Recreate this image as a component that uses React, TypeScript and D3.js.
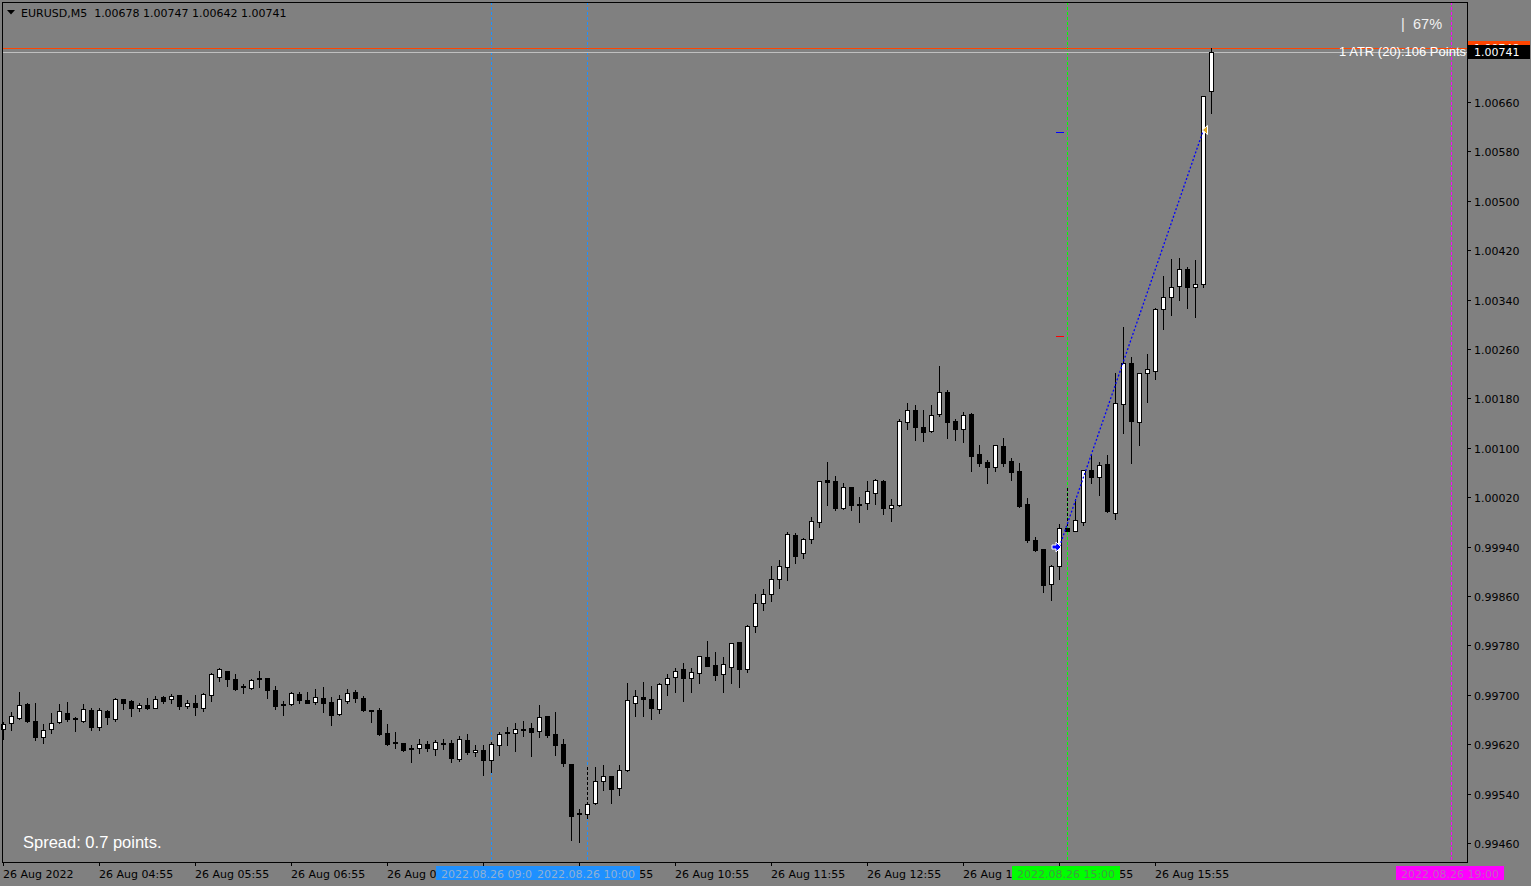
import React from 'react';
import * as d3 from 'd3';

const W = 1531;
const H = 886;

// OHLC of EURUSD M5, bars from 26 Aug 03:55 (index 0) to 16:30 (index 151)
const opens = [
  0.99645, 0.99655, 0.99663, 0.99685, 0.99658, 0.99632, 0.99645, 0.99656, 0.99671, 0.99663,
  0.99658, 0.99676, 0.99648, 0.99674, 0.99660, 0.99694, 0.99690, 0.99679, 0.99684, 0.99679,
  0.99697, 0.99694, 0.99700, 0.99682, 0.99687, 0.99679, 0.99700, 0.99729, 0.99739, 0.99726,
  0.99715, 0.99711, 0.99728, 0.99728, 0.99708, 0.99685, 0.99685, 0.99702, 0.99692, 0.99689,
  0.99695, 0.99689, 0.99669, 0.99690, 0.99705, 0.99695, 0.99676, 0.99676, 0.99638, 0.99624,
  0.99622, 0.99614, 0.99614, 0.99621, 0.99613, 0.99622, 0.99622, 0.99596, 0.99627, 0.99608,
  0.99611, 0.99595, 0.99619, 0.99640, 0.99638, 0.99645, 0.99647, 0.99642, 0.99666, 0.99637,
  0.99621, 0.99588, 0.99509, 0.99507, 0.99525, 0.99561, 0.99569, 0.99549, 0.99579, 0.99687,
  0.99697, 0.99694, 0.99677, 0.99718, 0.99729, 0.99741, 0.99728, 0.99736, 0.99762, 0.99749,
  0.99734, 0.99745, 0.99786, 0.99742, 0.99812, 0.99849, 0.99864, 0.99888, 0.99907, 0.99959,
  0.99930, 0.99953, 0.99980, 1.00048, 1.00047, 1.00003, 1.00037, 1.00009, 1.00011, 1.00027,
  1.00047, 1.00003, 1.00008, 1.00142, 1.00161, 1.00134, 1.00127, 1.00155, 1.00191, 1.00144,
  1.00131, 1.00155, 1.00090, 1.00077, 1.00069, 1.00103, 1.00079, 1.00063, 1.00009, 0.99951,
  0.99936, 0.99880, 0.99909, 0.99970, 0.99966, 0.99980, 1.00064, 1.00053, 1.00074, 0.99995,
  1.00171, 1.00238, 1.00142, 1.00221, 1.00225, 1.00325, 1.00344, 1.00362, 1.00390, 1.00361,
  1.00365, 1.00678,
];
const highs = [
  0.99656, 0.99672, 0.99705, 0.99687, 0.99687, 0.99653, 0.99671, 0.99685, 0.99689, 0.99664,
  0.99685, 0.99679, 0.99679, 0.99676, 0.99695, 0.99694, 0.99692, 0.99687, 0.99695, 0.99698,
  0.99698, 0.99702, 0.99700, 0.99692, 0.99700, 0.99703, 0.99736, 0.99744, 0.99739, 0.99734,
  0.99718, 0.99726, 0.99739, 0.99728, 0.99715, 0.99690, 0.99705, 0.99705, 0.99705, 0.99710,
  0.99713, 0.99697, 0.99700, 0.99710, 0.99707, 0.99698, 0.99676, 0.99679, 0.99653, 0.99640,
  0.99622, 0.99619, 0.99629, 0.99625, 0.99627, 0.99629, 0.99627, 0.99634, 0.99637, 0.99619,
  0.99619, 0.99624, 0.99640, 0.99648, 0.99655, 0.99658, 0.99655, 0.99684, 0.99666, 0.99672,
  0.99629, 0.99588, 0.99515, 0.99527, 0.99583, 0.99587, 0.99569, 0.99587, 0.99719, 0.99708,
  0.99721, 0.99715, 0.99719, 0.99734, 0.99744, 0.99752, 0.99744, 0.99763, 0.99787, 0.99770,
  0.99762, 0.99784, 0.99786, 0.99813, 0.99864, 0.99872, 0.99909, 0.99919, 0.99964, 0.99962,
  0.99954, 0.99988, 1.00047, 1.00077, 1.00055, 1.00043, 1.00037, 1.00021, 1.00047, 1.00050,
  1.00048, 1.00017, 1.00147, 1.00173, 1.00170, 1.00161, 1.00170, 1.00233, 1.00194, 1.00147,
  1.00158, 1.00157, 1.00105, 1.00080, 1.00105, 1.00116, 1.00084, 1.00076, 1.00019, 0.99956,
  0.99936, 0.99910, 0.99977, 0.99970, 1.00017, 1.00064, 1.00089, 1.00077, 1.00089, 1.00221,
  1.00296, 1.00247, 1.00221, 1.00252, 1.00327, 1.00378, 1.00406, 1.00408, 1.00392, 1.00404,
  1.00670, 1.00747,
];
const lows = [
  0.99629, 0.99643, 0.99661, 0.99656, 0.99627, 0.99622, 0.99638, 0.99655, 0.99658, 0.99642,
  0.99656, 0.99643, 0.99643, 0.99653, 0.99658, 0.99677, 0.99666, 0.99674, 0.99677, 0.99679,
  0.99687, 0.99687, 0.99677, 0.99679, 0.99668, 0.99674, 0.99690, 0.99723, 0.99715, 0.99708,
  0.99703, 0.99710, 0.99713, 0.99695, 0.99677, 0.99668, 0.99684, 0.99687, 0.99687, 0.99685,
  0.99672, 0.99651, 0.99668, 0.99687, 0.99689, 0.99674, 0.99656, 0.99635, 0.99619, 0.99614,
  0.99609, 0.99591, 0.99606, 0.99609, 0.99603, 0.99613, 0.99591, 0.99593, 0.99604, 0.99601,
  0.99570, 0.99575, 0.99603, 0.99619, 0.99609, 0.99634, 0.99601, 0.99632, 0.99632, 0.99603,
  0.99585, 0.99465, 0.99462, 0.99501, 0.99523, 0.99546, 0.99525, 0.99538, 0.99577, 0.99666,
  0.99666, 0.99660, 0.99671, 0.99700, 0.99705, 0.99690, 0.99705, 0.99719, 0.99747, 0.99724,
  0.99705, 0.99719, 0.99713, 0.99737, 0.99802, 0.99838, 0.99852, 0.99873, 0.99886, 0.99914,
  0.99922, 0.99946, 0.99972, 1.00008, 1.00000, 1.00001, 1.00000, 0.99980, 1.00001, 1.00009,
  0.99993, 0.99982, 1.00006, 1.00131, 1.00113, 1.00111, 1.00126, 1.00152, 1.00116, 1.00113,
  1.00110, 1.00063, 1.00071, 1.00043, 1.00063, 1.00071, 1.00048, 1.00004, 0.99948, 0.99933,
  0.99867, 0.99854, 0.99888, 0.99966, 0.99966, 0.99975, 1.00043, 1.00024, 0.99996, 0.99985,
  1.00124, 1.00076, 1.00105, 1.00174, 1.00212, 1.00293, 1.00315, 1.00340, 1.00327, 1.00312,
  1.00361, 1.00642,
];
const closes = [
  0.99653, 0.99666, 0.99684, 0.99658, 0.99632, 0.99643, 0.99655, 0.99674, 0.99661, 0.99660,
  0.99677, 0.99648, 0.99676, 0.99664, 0.99694, 0.99687, 0.99679, 0.99684, 0.99679, 0.99694,
  0.99690, 0.99698, 0.99682, 0.99687, 0.99681, 0.99702, 0.99734, 0.99741, 0.99726, 0.99710,
  0.99713, 0.99724, 0.99726, 0.99707, 0.99682, 0.99684, 0.99703, 0.99692, 0.99687, 0.99697,
  0.99687, 0.99668, 0.99694, 0.99703, 0.99695, 0.99676, 0.99674, 0.99637, 0.99621, 0.99622,
  0.99611, 0.99613, 0.99621, 0.99614, 0.99624, 0.99621, 0.99598, 0.99629, 0.99608, 0.99611,
  0.99595, 0.99621, 0.99637, 0.99638, 0.99645, 0.99643, 0.99640, 0.99664, 0.99635, 0.99619,
  0.99590, 0.99504, 0.99507, 0.99523, 0.99561, 0.99569, 0.99548, 0.99579, 0.99692, 0.99698,
  0.99694, 0.99679, 0.99718, 0.99728, 0.99739, 0.99728, 0.99737, 0.99763, 0.99747, 0.99732,
  0.99750, 0.99784, 0.99742, 0.99812, 0.99849, 0.99864, 0.99888, 0.99909, 0.99961, 0.99925,
  0.99953, 0.99982, 1.00047, 1.00045, 1.00003, 1.00037, 1.00008, 1.00008, 1.00030, 1.00048,
  1.00003, 1.00008, 1.00144, 1.00161, 1.00134, 1.00126, 1.00153, 1.00191, 1.00142, 1.00131,
  1.00153, 1.00087, 1.00076, 1.00069, 1.00105, 1.00076, 1.00061, 1.00006, 0.99951, 0.99935,
  0.99878, 0.99909, 0.99970, 0.99966, 0.99983, 1.00064, 1.00053, 1.00072, 0.99998, 1.00173,
  1.00238, 1.00144, 1.00221, 1.00228, 1.00325, 1.00344, 1.00361, 1.00390, 1.00361, 1.00365,
  1.00670, 1.00741,
];

const xTickBars = [0, 12, 24, 36, 48, 60, 72, 84, 96, 108, 120, 132, 144];
const xTickLabels = [
  '26 Aug 2022', '26 Aug 04:55', '26 Aug 05:55', '26 Aug 06:55', '26 Aug 07:55',
  '26 Aug 08:55', '26 Aug 09:55', '26 Aug 10:55', '26 Aug 11:55', '26 Aug 12:55',
  '26 Aug 13:55', '26 Aug 14:55', '26 Aug 15:55',
];
const yTicks = [
  0.9946, 0.9954, 0.9962, 0.997, 0.9978, 0.9986, 0.9994, 1.0002,
  1.001, 1.0018, 1.0026, 1.0034, 1.0042, 1.005, 1.0058, 1.0066,
];

const vLineBars = [61, 73, 133, 181];
const vLineColors = ['#1E90FF', '#1E90FF', '#00FF00', '#FF00FF'];
const vLineTextColors = ['#8fb0d4', '#8fb0d4', '#3f9f3f', '#c060c0'];
const vLineLabels = ['2022.08.26 09:00', '2022.08.26 10:00', '2022.08.26 15:00', '2022.08.26 19:00'];

const symbolHeader = 'EURUSD,M5  1.00678 1.00747 1.00642 1.00741';
const bidPrice = 1.00741;
const askPrice = 1.00748;
const atrText = '1 ATR (20):106 Points';
const spreadText = 'Spread: 0.7 points.';
const percentText = '67%';

// trade markers
const entryBar = 132;
const entryPrice = 0.9994;
const exitBar = 150;
const exitPrice = 1.00615;
const tpPrice = 1.00611;
const slPrice = 1.00281;
const dashSegBars = [73, 133];
const dashSegTop = [0.99583, 1.00035];
const dashSegBottom = [0.99525, 0.9997];

const FONT = 'DejaVu Sans, Tahoma, sans-serif';
const ARIAL = 'Liberation Sans, Arial, sans-serif';

export default function App() {
  const left = 2;
  const right = 1467;
  const top = 2;
  const bottom = 862;

  const x = d3.scaleLinear().domain([0, 1]).range([3, 11]); // pixel column of bar index
  const y = d3.scaleLinear().domain([0.9946, 1.0066]).range([843, 102]);

  const candles = opens.map((o, i) => {
    const c = closes[i];
    const hi = highs[i];
    const lo = lows[i];
    const cx = Math.round(x(i));
    const yT = Math.round(y(Math.max(o, c)));
    const yB = Math.round(y(Math.min(o, c)));
    const wT = Math.round(y(hi));
    const wB = Math.round(y(lo));
    const bull = c >= o;
    return (
      <g key={i}>
        <rect x={cx} y={wT} width={1} height={wB - wT + 1} fill="#000" />
        <rect x={cx - 2} y={yT} width={5} height={yB - yT + 1} fill="#000" />
        {bull && yB - yT >= 2 && (
          <rect x={cx - 1} y={yT + 1} width={3} height={yB - yT - 1} fill="#fff" />
        )}
      </g>
    );
  });

  const bidY = Math.round(y(bidPrice)) + 0.5;
  const askY = Math.round(y(askPrice)) + 0.5;

  const ex = x(entryBar) + 0.5;
  const ey = y(entryPrice);
  const xx = x(exitBar) + 0.5;
  const xy = y(exitPrice);

  return (
    <svg
      width={W}
      height={H}
      style={{ position: 'absolute', left: 0, top: 0, display: 'block' }}
      shapeRendering="crispEdges"
    >
      <rect x={0} y={0} width={W} height={H} fill="#808080" />

      {/* vertical date lines */}
      {vLineBars.map((b, i) => (
        <line
          key={'vl' + i}
          x1={x(b) + 0.5}
          x2={x(b) + 0.5}
          y1={top}
          y2={bottom}
          stroke={vLineColors[i]}
          strokeWidth={1}
          strokeDasharray="3,2"
        />
      ))}

      {/* black dashed trade segments */}
      {dashSegBars.map((b, i) => (
        <line
          key={'ds' + i}
          x1={x(b) + 0.5}
          x2={x(b) + 0.5}
          y1={y(dashSegTop[i])}
          y2={y(dashSegBottom[i])}
          stroke="#000"
          strokeDasharray="3,2"
        />
      ))}

      {/* bid / ask lines */}
      <line x1={left} x2={right} y1={askY} y2={askY} stroke="#FF4500" strokeWidth={1} />
      <line x1={left} x2={right} y1={bidY} y2={bidY} stroke="#C0C0C0" strokeWidth={1} />

      {candles}

      {/* trade connection dotted line */}
      <line
        x1={ex}
        y1={ey}
        x2={xx}
        y2={xy}
        stroke="#0000FF"
        strokeWidth={1.3}
        strokeDasharray="2,2"
        shapeRendering="auto"
      />
      {/* TP / SL ticks */}
      <line x1={x(entryBar) - 3} x2={x(entryBar) + 5} y1={Math.round(y(tpPrice)) + 0.5} y2={Math.round(y(tpPrice)) + 0.5} stroke="#0000FF" />
      <line x1={x(entryBar) - 3} x2={x(entryBar) + 5} y1={Math.round(y(slPrice)) + 0.5} y2={Math.round(y(slPrice)) + 0.5} stroke="#FF0000" />

      {/* entry arrow */}
      <g transform={`translate(${x(entryBar) - 2},${Math.round(ey)})`} shapeRendering="auto">
        <path d="M-5,-2 L-1,-2 L-1,-5 L4,0 L-1,5 L-1,2 L-5,2 Z" fill="#0000FF" stroke="#fff" strokeWidth={1} />
      </g>
      {/* exit arrow */}
      <g transform={`translate(${xx - 1},${Math.round(xy)})`} shapeRendering="auto">
        <path d="M0,0 L5,-4.5 L5,4.5 Z" fill="#DAA520" stroke="#fff" strokeWidth={1} />
      </g>

      {/* frame */}
      <rect x={left + 0.5} y={top + 0.5} width={right - left} height={bottom - top} fill="none" stroke="#000" />

      {/* y axis */}
      {yTicks.map((t, i) => {
        const yy = Math.round(y(t)) + 0.5;
        return (
          <g key={'yt' + i}>
            <line x1={right} x2={right + 4} y1={yy} y2={yy} stroke="#000" />
            <text x={1474} y={yy + 4} fontFamily={FONT} fontSize={11} fill="#000">
              {t.toFixed(5)}
            </text>
          </g>
        );
      })}

      {/* x axis */}
      {xTickBars.map((b, i) => (
        <g key={'xt' + i}>
          <line x1={x(b) + 0.5} x2={x(b) + 0.5} y1={bottom} y2={bottom + 4} stroke="#000" />
          <text x={x(b)} y={878} fontFamily={FONT} fontSize={11} fill="#000">
            {xTickLabels[i]}
          </text>
        </g>
      ))}

      {/* vertical line labels */}
      {vLineBars.map((b, i) => (
        <g key={'vlab' + i}>
          <rect x={x(b) - 55} y={866} width={108} height={14} fill={vLineColors[i]} />
          <text
            x={x(b) - 1}
            y={878}
            textAnchor="middle"
            fontFamily={FONT}
            fontSize={11}
            fill={vLineTextColors[i]}
          >
            {vLineLabels[i]}
          </text>
        </g>
      ))}

      {/* price labels */}
      <rect x={1468} y={Math.round(y(askPrice)) - 7} width={62} height={14} fill="#FF4500" />
      <text x={1474} y={Math.round(y(askPrice)) + 4} fontFamily={FONT} fontSize={11} fill="#fff">
        {askPrice.toFixed(5)}
      </text>
      <rect x={1468} y={Math.round(y(bidPrice)) - 7} width={62} height={14} fill="#000" />
      <text x={1474} y={Math.round(y(bidPrice)) + 4} fontFamily={FONT} fontSize={11} fill="#fff">
        {bidPrice.toFixed(5)}
      </text>

      {/* header */}
      <path d="M7,10 L15,10 L11,14.5 Z" fill="#000" shapeRendering="auto" />
      <text x={21} y={17} fontFamily={FONT} fontSize={11} fill="#000" style={{ whiteSpace: 'pre' }}>
        {symbolHeader}
      </text>

      {/* overlays */}
      <text x={1466} y={56} textAnchor="end" fontFamily={ARIAL} fontSize={13} fill="#fff">
        {atrText}
      </text>
      <text x={1401} y={29} fontFamily={ARIAL} fontSize={14.5} fill="#f0f0f0">
        |
      </text>
      <text x={1413} y={29} fontFamily={ARIAL} fontSize={14.5} fill="#f0f0f0">
        {percentText}
      </text>
      <text x={23} y={848} fontFamily={ARIAL} fontSize={16.5} fill="#fff">
        {spreadText}
      </text>
    </svg>
  );
}
